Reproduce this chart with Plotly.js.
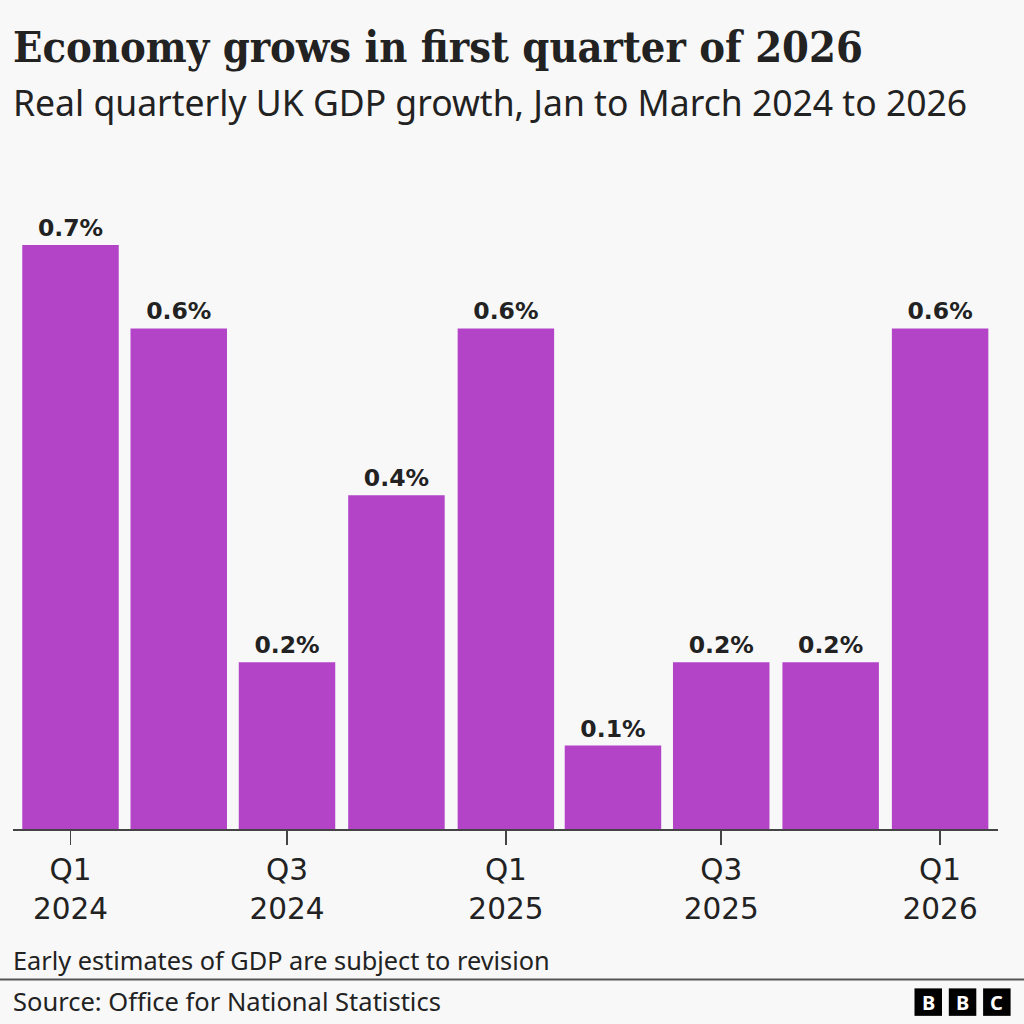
<!DOCTYPE html>
<html><head><meta charset="utf-8">
<script src="https://cdn.plot.ly/plotly-3.0.1.min.js"></script>
<style>html,body{margin:0;padding:0;background:#f8f8f8}</style></head>
<body><div id="c" style="width:1024px;height:1024px"></div>
<script>
const quarterDates = ['2024-01-01','2024-04-01','2024-07-01','2024-10-01','2025-01-01','2025-04-01','2025-07-01','2025-10-01','2026-01-01'];
const growth = [0.7,0.6,0.2,0.4,0.6,0.1,0.2,0.2,0.6];
const tickDates = ['2024-01-01','2024-07-01','2025-01-01','2025-07-01','2026-01-01'];
const tickLabels = ['Q1<br>2024','Q3<br>2024','Q1<br>2025','Q3<br>2025','Q1<br>2026'];
const titleText = 'Economy grows in first quarter of 2026';
const subtitleText = 'Real quarterly UK GDP growth, Jan to March 2024 to 2026';
const noteText = 'Early estimates of GDP are subject to revision';
const sourceText = 'Source: Office for National Statistics';
const logoLetters = ['B','B','C'];

const W=1024,H=1024,L=13,R=998,T=150,B=829.5;
const px=x=>(x-L)/(R-L), py=y=>(B-y)/(B-T);
const sans='"Noto Sans", sans-serif', wide='"DejaVu Sans", sans-serif', serif='"DejaVu Serif Condensed", "DejaVu Serif", serif', ink='#222222';
const barWidthMs=81.1*864e5;
const txt=(text,x,y,size,extra={})=>Object.assign({text,xref:'paper',yref:'paper',x:px(x),y:py(y),xanchor:'left',yanchor:'middle',showarrow:false,xshift:-2,font:{family:sans,size,color:ink}},extra);

const logo=logoLetters.map((l,i)=>914.5+i*34.3);
const shapes=[{type:'line',xref:'paper',yref:'paper',x0:px(0),x1:px(W),y0:py(980),y1:py(980),line:{color:'#555',width:2}}]
 .concat(logo.map(x=>({type:'rect',xref:'paper',yref:'paper',x0:px(x),x1:px(x+27.5),y0:py(989),y1:py(1016.5),fillcolor:'#000',line:{width:0}})));
const annotations=[
 txt(subtitleText,13,102,35.5),
 txt(noteText,13,961,25.3),
 txt(sourceText,13,1002,25.5)
].concat(logoLetters.map((l,i)=>txt(l,logo[i]+13.75,1003,20,{xanchor:'center',xshift:0,font:{family:sans,size:20,color:'#fff',weight:700}})));

Plotly.newPlot('c',[{type:'bar',x:quarterDates,y:growth,width:barWidthMs,
 marker:{color:'#b344c8',line:{width:0}},
 text:growth.map(v=>v+'%'),textposition:'outside',cliponaxis:false,textangle:0,
 textfont:{family:wide,size:23.5,color:ink,weight:700},hoverinfo:'skip'}],
{width:W,height:H,paper_bgcolor:'#f8f8f8',plot_bgcolor:'#f8f8f8',showlegend:false,
 margin:{l:L,r:W-R,t:T,b:H-B,pad:0},
 title:{text:titleText,x:13/W,xanchor:'left',xref:'container',y:1-47/H,yanchor:'middle',font:{family:serif,size:43,color:ink,weight:700}},
 xaxis:{type:'date',range:['2023-11-13 16:00','2026-02-18 16:00'],tickmode:'array',tickvals:tickDates,ticktext:tickLabels,
  ticks:'outside',ticklen:14,tickwidth:1.5,tickcolor:'#444',showline:true,linecolor:'#444',linewidth:2,showgrid:false,zeroline:false,
  tickfont:{family:wide,size:29.5,color:ink},tickangle:0},
 yaxis:{range:[0,0.8138],visible:false,showgrid:false,zeroline:false},
 shapes,annotations},{displayModeBar:false,staticPlot:true});
</script></body></html>
